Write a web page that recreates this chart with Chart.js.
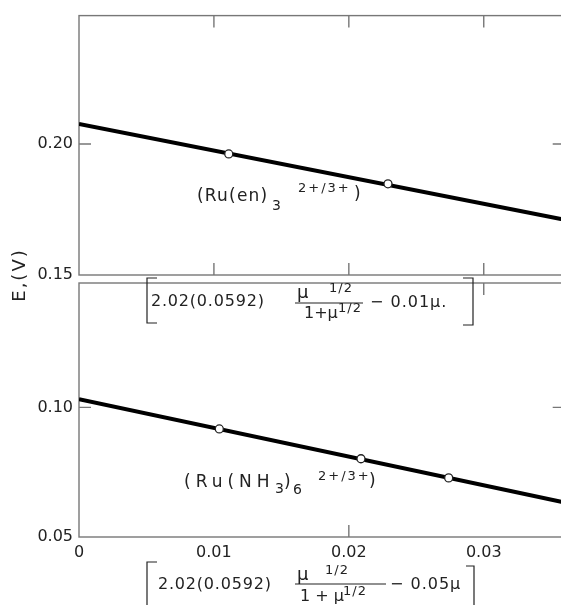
<!DOCTYPE html>
<html>
<head>
<meta charset="utf-8">
<script src="https://cdn.jsdelivr.net/npm/chart.js@4.4.1/dist/chart.umd.min.js"></script>
<style>
  html, body { margin: 0; padding: 0; background: #fff; overflow: hidden; }
  #wrap { position: relative; width: 561px; height: 605px; overflow: hidden; }
  #wrap canvas { position: absolute; left: 0; top: 0; }
</style>
</head>
<body>
<div id="wrap">
  <canvas id="topChart" width="570" height="605"></canvas>
  <canvas id="bottomChart" width="570" height="605"></canvas>
</div>
<script>
// shared x axis
const xTicks = [0, 0.01, 0.02, 0.03];
const xRange = [0, 0.036];

// (Ru(en)3) 2+/3+ panel
const enX = [0.0111, 0.0229];
const enY = [0.1962, 0.1848];
const enFitX = [0, 0.036];
const enFitY = [0.2076, 0.1711];
const enYTicks = [0.15, 0.20];
const enYRange = [0.15, 0.249];

// (Ru(NH3)6) 2+/3+ panel
const nh3X = [0.0104, 0.0209, 0.0274];
const nh3Y = [0.0917, 0.0802, 0.0728];
const nh3FitX = [0, 0.036];
const nh3FitY = [0.1032, 0.0633];
const nh3YTicks = [0.05, 0.10];
const nh3YRange = [0.05, 0.148];

const ink = '#222';
const frameColor = '#777';
const font = "'DejaVu Sans', sans-serif";

function pts(xs, ys) {
    return xs.map((x, i) => ({ x, y: ys[i] }));
}

function text(ctx, s, x, y, size, spacing) {
    ctx.font = size + 'px ' + font;
    ctx.letterSpacing = (spacing || 0) + 'px';
    ctx.fillText(s, x, y);
}

function bracket(ctx, x, y1, y2, hook) {
    ctx.beginPath();
    ctx.moveTo(x + hook, y1);
    ctx.lineTo(x, y1);
    ctx.lineTo(x, y2);
    ctx.lineTo(x + hook, y2);
    ctx.stroke();
}

// box round the plot area plus short ticks pointing inwards
const framePlugin = {
    id: 'frame',
    beforeDatasetsDraw(chart, args, opts) {
        const { ctx, chartArea: a, scales: { x, y } } = chart;
        const len = 12;
        ctx.save();
        ctx.strokeStyle = frameColor;
        ctx.lineWidth = 1.4;
        ctx.strokeRect(a.left, a.top, a.right - a.left, a.bottom - a.top);
        ctx.beginPath();
        (opts.top || []).forEach(v => {
            const p = x.getPixelForValue(v);
            ctx.moveTo(p, a.top); ctx.lineTo(p, a.top + len);
        });
        (opts.bottom || []).forEach(v => {
            const p = x.getPixelForValue(v);
            ctx.moveTo(p, a.bottom); ctx.lineTo(p, a.bottom - len);
        });
        (opts.left || []).forEach(v => {
            const p = y.getPixelForValue(v);
            ctx.moveTo(a.left, p); ctx.lineTo(a.left + len, p);
        });
        (opts.right || []).forEach(v => {
            const p = y.getPixelForValue(v);
            ctx.moveTo(a.right, p); ctx.lineTo(a.right - len, p);
        });
        ctx.stroke();
        ctx.restore();
    }
};

const enNotes = {
    id: 'enNotes',
    afterDraw(chart) {
        const ctx = chart.ctx;
        ctx.save();
        ctx.fillStyle = ink;
        ctx.textBaseline = 'middle';
        text(ctx, '(Ru(en)', 197, 197, 17, 1.2);
        text(ctx, '3', 272, 206, 14);
        text(ctx, '2+/3+', 298, 189, 13, 2);
        text(ctx, ')', 354, 195, 17);
        ctx.restore();
    }
};

const nh3Notes = {
    id: 'nh3Notes',
    afterDraw(chart) {
        const ctx = chart.ctx;
        ctx.save();
        ctx.fillStyle = ink;
        ctx.strokeStyle = ink;
        ctx.lineWidth = 1.2;
        ctx.textBaseline = 'middle';

        // series label
        text(ctx, '(Ru(NH', 184, 483, 17, 5);
        text(ctx, '3', 275, 489, 14);
        text(ctx, ')', 284, 483, 17);
        text(ctx, '6', 293, 490, 14);
        text(ctx, '2+/3+', 318, 477, 13, 2);
        text(ctx, ')', 369, 482, 17);

        // axis title
        ctx.save();
        ctx.translate(20, 275);
        ctx.rotate(-Math.PI / 2);
        ctx.textAlign = 'center';
        text(ctx, 'E,(V)', 0, 0, 18, 2);
        ctx.restore();

        // x label of the upper panel
        bracket(ctx, 147, 278, 323, 10);
        bracket(ctx, 473, 278, 325, -10);
        text(ctx, '2.02(0.0592)', 151, 302, 16, 0.8);
        text(ctx, 'μ', 297, 293, 18);
        text(ctx, '1/2', 329, 289, 13, 1);
        ctx.beginPath(); ctx.moveTo(295, 303); ctx.lineTo(363, 303); ctx.stroke();
        text(ctx, '1+μ', 304, 314, 16);
        text(ctx, '1/2', 338, 309, 13, 1);
        text(ctx, '− 0.01μ.', 370, 303, 16, 1);

        // x label of the lower panel
        bracket(ctx, 147, 562, 612, 10);
        bracket(ctx, 474, 566, 612, -8);
        text(ctx, '2.02(0.0592)', 158, 585, 16, 0.8);
        text(ctx, 'μ', 297, 575, 18);
        text(ctx, '1/2', 325, 571, 13, 1);
        ctx.beginPath(); ctx.moveTo(295, 584); ctx.lineTo(386, 584); ctx.stroke();
        text(ctx, '1 + μ', 300, 597, 16);
        text(ctx, '1/2', 343, 592, 13, 1);
        text(ctx, '− 0.05μ', 390, 585, 16, 1);
        ctx.restore();
    }
};

function makeChart(id, cfg) {
    return new Chart(document.getElementById(id), {
        type: 'scatter',
        data: {
            datasets: [{
                data: pts(cfg.px, cfg.py),
                showLine: false,
                pointRadius: 4,
                pointBackgroundColor: '#fff',
                pointBorderColor: ink,
                pointBorderWidth: 1.3,
                order: 0
            }, {
                data: pts(cfg.fx, cfg.fy),
                showLine: true,
                borderColor: '#000',
                borderWidth: 4,
                pointRadius: 0,
                order: 1
            }]
        },
        options: {
            responsive: false,
            animation: false,
            events: [],
            layout: { padding: cfg.padding },
            plugins: {
                legend: { display: false },
                tooltip: { enabled: false },
                frame: cfg.ticks
            },
            scales: {
                x: {
                    type: 'linear',
                    min: xRange[0],
                    max: xRange[1],
                    grid: { display: false, drawTicks: false },
                    border: { display: false },
                    afterBuildTicks: s => { s.ticks = xTicks.map(value => ({ value })); },
                    afterFit: s => { s.height = cfg.xHeight; },
                    ticks: {
                        display: cfg.xLabels,
                        color: ink,
                        padding: 6,
                        maxRotation: 0,
                        autoSkip: false,
                        font: { family: font, size: 16 },
                        callback: v => v === 0 ? '0' : v.toFixed(2)
                    }
                },
                y: {
                    type: 'linear',
                    min: cfg.yRange[0],
                    max: cfg.yRange[1],
                    grid: { display: false, drawTicks: false },
                    border: { display: false },
                    afterBuildTicks: s => { s.ticks = cfg.yTicks.map(value => ({ value })); },
                    afterFit: s => { s.width = 79; },
                    ticks: {
                        color: ink,
                        padding: 6,
                        font: { family: font, size: 16 },
                        callback: v => v.toFixed(2)
                    }
                }
            }
        },
        plugins: [framePlugin, cfg.notes]
    });
}

makeChart('topChart', {
    px: enX, py: enY, fx: enFitX, fy: enFitY,
    yTicks: enYTicks, yRange: enYRange,
    padding: { top: 15, right: 4, bottom: 330, left: 0 },
    xHeight: 0, xLabels: false,
    ticks: { top: [0.01, 0.02, 0.03], bottom: [0.01, 0.02, 0.03], left: [0.20], right: [0.20] },
    notes: enNotes
});

makeChart('bottomChart', {
    px: nh3X, py: nh3Y, fx: nh3FitX, fy: nh3FitY,
    yTicks: nh3YTicks, yRange: nh3YRange,
    padding: { top: 283, right: 4, bottom: 0, left: 0 },
    xHeight: 68, xLabels: true,
    ticks: { top: [0.03], bottom: [0.02], left: [0.10], right: [0.10] },
    notes: nh3Notes
});
</script>
</body>
</html>
